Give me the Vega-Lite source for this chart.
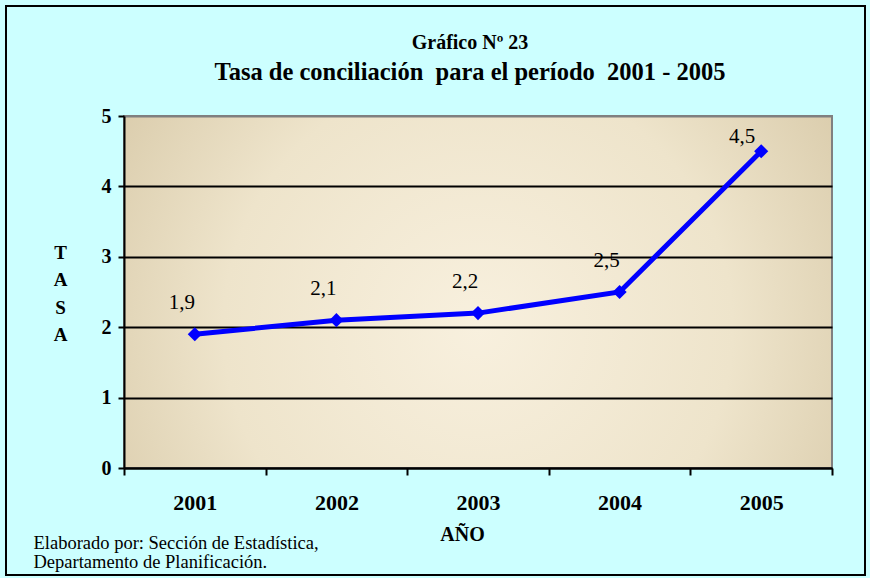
{
  "$schema": "https://vega.github.io/schema/vega-lite/v6.json",
  "width": 708,
  "height": 352,
  "autosize": "none",
  "padding": {"left": 124, "top": 116, "right": 38, "bottom": 110},
  "background": "#CCFFFF",
  "config": {
    "font": "Liberation Serif",
    "text": {"font": "Liberation Serif"},
    "axis": {"labelFont": "Liberation Serif", "titleFont": "Liberation Serif"},
    "locale": {"number": {"decimal": ",", "thousands": ".", "grouping": [3], "currency": ["", ""]}},
    "view": {
      "fill": {"gradient": "radial", "x1": 0.5, "y1": 0.55, "r1": 0, "x2": 0.5, "y2": 0.55, "r2": 0.72,
        "stops": [{"offset": 0, "color": "#F8F0DE"}, {"offset": 0.5, "color": "#EEE4CB"}, {"offset": 1, "color": "#D0C09C"}]},
      "stroke": "#808080",
      "strokeWidth": 2
    }
  },
  "title": {
    "text": "Gráfico Nº 23",
    "subtitle": "Tasa de conciliación\u00a0 para el período\u00a0 2001 - 2005",
    "fontSize": 20,
    "fontWeight": "bold",
    "font": "Liberation Serif",
    "color": "black",
    "subtitleFont": "Liberation Serif",
    "subtitleFontSize": 24.5,
    "subtitleFontWeight": "bold",
    "subtitleColor": "black",
    "subtitlePadding": 8,
    "anchor": "middle",
    "frame": "group",
    "dx": -8,
    "offset": -78
  },
  "data": {"values": [
    {"year": "2001", "tasa": 1.9},
    {"year": "2002", "tasa": 2.1},
    {"year": "2003", "tasa": 2.2},
    {"year": "2004", "tasa": 2.5},
    {"year": "2005", "tasa": 4.5}
  ]},
  "resolve": {"axis": {"y": "independent"}},
  "layer": [
    {
      "mark": {"type": "line", "color": "#0000FF", "strokeWidth": 5},
      "encoding": {
        "x": {"field": "year", "type": "ordinal",
          "scale": {"type": "band", "paddingInner": 0, "paddingOuter": 0},
          "axis": {"tickBand": "extent", "labelAngle": 0, "labelFontSize": 22, "labelFontWeight": "bold", "labelColor": "black",
            "labelFont": "Liberation Serif", "labelPadding": 17, "tickSize": 7, "tickWidth": 2, "tickColor": "black",
            "domainColor": "black", "domainWidth": 2,
            "grid": false, "title": "AÑO", "titleFont": "Liberation Serif", "titleFontSize": 20, "titleFontWeight": "bold", "titleColor": "black",
            "titleX": 338, "titleY": 66, "titleBaseline": "middle", "titleAlign": "center"}},
        "y": {"field": "tasa", "type": "quantitative",
          "scale": {"domain": [0, 5], "nice": false},
          "axis": {"values": [0, 1, 2, 3, 4, 5], "orient": "left", "domainColor": "black", "domainWidth": 2,
            "tickColor": "black", "tickWidth": 2, "tickSize": 6, "labelFont": "Liberation Serif", "labelFontSize": 20, "labelFontWeight": "bold",
            "labelColor": "black", "labelPadding": 7, "grid": true, "gridWidth": 2,
            "gridColor": {"condition": {"test": "datum.value == 5", "value": "#808080"}, "value": "black"},
            "title": ["T", "A", "S", "A"], "titleFont": "Liberation Serif", "titleAngle": 0, "titleFontSize": 19, "titleFontWeight": "bold", "titleColor": "black",
            "titleLineHeight": 27.5, "titleX": -64, "titleY": 136, "titleBaseline": "middle", "titleAlign": "center"}}
      }
    },
    {
      "mark": {"type": "point", "shape": "diamond", "filled": true, "size": 200, "color": "#0000FF", "opacity": 1, "strokeWidth": 0},
      "encoding": {
        "x": {"field": "year", "type": "ordinal"},
        "y": {"field": "tasa", "type": "quantitative", "axis": null},
        "stroke": {"field": "tasa", "type": "quantitative",
          "scale": {"range": ["rgba(204,255,255,0)", "rgba(204,255,255,0)"]},
          "legend": {"orient": "none", "legendX": -118, "legendY": -110, "direction": "horizontal",
            "gradientLength": 859, "gradientThickness": 569, "title": null, "padding": 0,
            "labelExpr": "''", "labelOpacity": 0, "labelFontSize": 1, "tickCount": 2,
            "gradientStrokeColor": "black", "gradientStrokeWidth": 2}}
      }
    },
    {
      "transform": [{"filter": "datum.year != '2005'"}],
      "mark": {"type": "text", "font": "Liberation Serif", "dx": -13, "dy": -31, "fontSize": 21, "color": "black", "baseline": "middle"},
      "encoding": {
        "x": {"field": "year", "type": "ordinal"},
        "y": {"field": "tasa", "type": "quantitative", "axis": null},
        "text": {"field": "tasa", "type": "quantitative", "format": ".1f"}
      }
    },
    {
      "transform": [{"filter": "datum.year == '2005'"}],
      "mark": {"type": "text", "font": "Liberation Serif", "dx": -19, "dy": -14, "fontSize": 21, "color": "black", "baseline": "middle"},
      "encoding": {
        "x": {"field": "year", "type": "ordinal"},
        "y": {"field": "tasa", "type": "quantitative",
          "axis": {"orient": "right", "labels": false, "ticks": false, "domain": false, "grid": false,
            "title": ["Elaborado por: Sección de Estadística,", "Departamento de Planificación."],
            "titleFont": "Liberation Serif",
            "titleAngle": 0, "titleAlign": "left", "titleBaseline": "alphabetic", "titleX": -799, "titleY": 432,
            "titleFontSize": 18.5, "titleFontWeight": "normal", "titleColor": "black", "titleLineHeight": 19}},
        "text": {"field": "tasa", "type": "quantitative", "format": ".1f"}
      }
    }
  ]
}
